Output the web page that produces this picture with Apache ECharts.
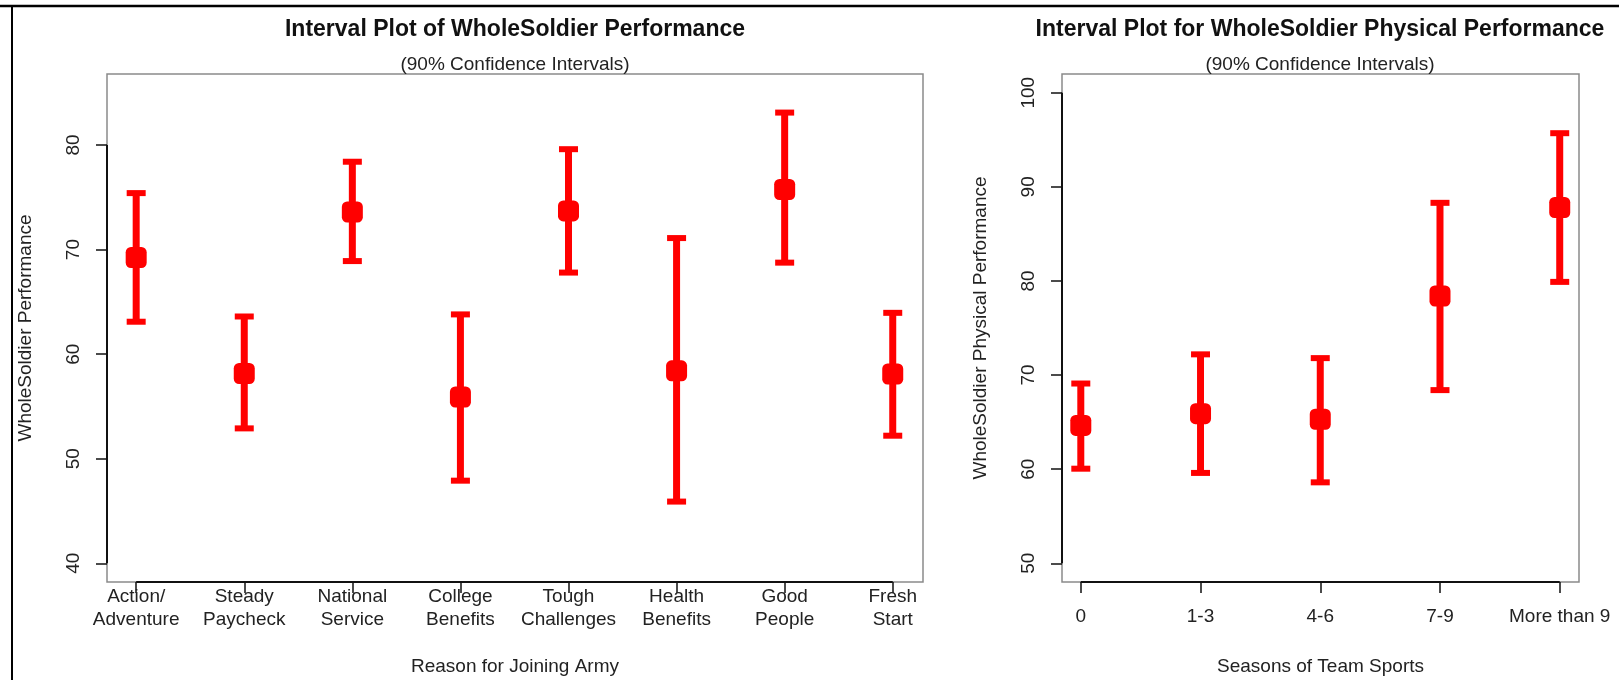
<!DOCTYPE html>
<html>
<head>
<meta charset="utf-8">
<script src="https://cdn.jsdelivr.net/npm/echarts@6/dist/echarts.min.js"></script>
<style>
  html, body { margin: 0; padding: 0; background: #fff; }
  #chart { width: 1619px; height: 680px; }
</style>
</head>
<body>
<div id="chart"></div>
<script>
// left panel: reason for joining army
var reasonCats = ['Action/\nAdventure', 'Steady\nPaycheck', 'National\nService', 'College\nBenefits',
  'Tough\nChallenges', 'Health\nBenefits', 'Good\nPeople', 'Fresh\nStart']
var reasonMean = [69.25, 58.15, 73.6, 55.9, 73.7, 58.4, 75.75, 58.1]
var reasonLow = [63.1, 52.9, 68.9, 47.9, 67.8, 45.9, 68.75, 52.2]
var reasonHigh = [75.4, 63.6, 78.4, 63.8, 79.6, 71.1, 83.1, 63.95]
var reasonTicks = [40, 50, 60, 70, 80]

// right panel: seasons of team sports
var sportCats = ['0', '1-3', '4-6', '7-9', 'More than 9']
var sportMean = [64.65, 65.9, 65.3, 78.4, 87.8]
var sportLow = [60.05, 59.6, 58.6, 68.4, 79.9]
var sportHigh = [69.1, 72.2, 71.8, 88.3, 95.7]
var sportTicks = [50, 60, 70, 80, 90, 100]

var FONT = '"Liberation Sans", Arial, Helvetica, sans-serif'
var RED = '#ff0000'

function idx(arr) {
  return arr.map(function (_, i) { return i })
}

function barData(low, high) {
  return low.map(function (v, i) { return [i, v, high[i]] })
}

function meanData(mean) {
  return mean.map(function (v, i) { return [i, v] })
}

// error bar with caps, drawn through the axis scales
function renderErrorBar(params, api) {
  var x = api.value(0)
  var top = api.coord([x, api.value(2)])
  var bot = api.coord([x, api.value(1)])
  var half = 9.5
  return {
    type: 'group',
    children: [
      { type: 'line', shape: { x1: top[0], y1: top[1], x2: bot[0], y2: bot[1] }, style: { stroke: RED, lineWidth: 7 } },
      { type: 'line', shape: { x1: top[0] - half, y1: top[1], x2: top[0] + half, y2: top[1] }, style: { stroke: RED, lineWidth: 6 } },
      { type: 'line', shape: { x1: bot[0] - half, y1: bot[1], x2: bot[0] + half, y2: bot[1] }, style: { stroke: RED, lineWidth: 6 } },
    ],
  }
}

// R style axis lines: only from first to last tick
function makeAxisRender(nCats, ticks) {
  return function (params, api) {
    var cs = params.coordSys
    var yTop = api.coord([0, ticks[ticks.length - 1]])[1]
    var yBot = api.coord([0, ticks[0]])[1]
    var xL = api.coord([0, ticks[0]])[0]
    var xR = api.coord([nCats - 1, ticks[0]])[0]
    var bottom = cs.y + cs.height
    return {
      type: 'group',
      children: [
        { type: 'line', shape: { x1: cs.x, y1: yTop, x2: cs.x, y2: yBot }, style: { stroke: '#111', lineWidth: 2 } },
        { type: 'line', shape: { x1: xL, y1: bottom, x2: xR, y2: bottom }, style: { stroke: '#111', lineWidth: 2 } },
      ],
    }
  }
}

function xAxisCfg(gridIndex, cats, min, max, name, labelMargin) {
  return {
    type: 'value',
    gridIndex: gridIndex,
    min: min,
    max: max,
    name: name,
    nameLocation: 'middle',
    nameGap: 75,
    nameTextStyle: { color: '#222', fontSize: 19, fontFamily: FONT },
    axisLine: { show: false, onZero: false },
    splitLine: { show: false },
    axisTick: { show: true, length: 11, customValues: idx(cats), lineStyle: { color: '#111', width: 1.5 } },
    axisLabel: {
      customValues: idx(cats),
      margin: labelMargin,
      color: '#222',
      fontSize: 19,
      lineHeight: 23,
      fontFamily: FONT,
      formatter: function (v) { return cats[Math.round(v)] },
    },
  }
}

function yAxisCfg(gridIndex, ticks, min, max, name) {
  return {
    type: 'value',
    gridIndex: gridIndex,
    min: min,
    max: max,
    name: name,
    nameLocation: 'middle',
    nameGap: 72,
    nameTextStyle: { color: '#222', fontSize: 19, fontFamily: FONT },
    axisLine: { show: false, onZero: false },
    splitLine: { show: false },
    axisTick: { show: true, length: 11, customValues: ticks, lineStyle: { color: '#111', width: 1.5 } },
    axisLabel: {
      customValues: ticks,
      rotate: 90,
      margin: 24,
      color: '#222',
      fontSize: 19,
      fontFamily: FONT,
    },
  }
}

var myChart = echarts.init(document.getElementById('chart'))
myChart.setOption({
  backgroundColor: '#fff',
  animation: false,
  title: [
    { text: 'Interval Plot of WholeSoldier Performance', left: 515, top: 18, textAlign: 'center', padding: 0,
      textStyle: { fontSize: 23, fontWeight: 'bold', color: '#111', fontFamily: FONT } },
    { text: '(90% Confidence Intervals)', left: 515, top: 55, textAlign: 'center', padding: 0,
      textStyle: { fontSize: 19, fontWeight: 'normal', color: '#222', fontFamily: FONT } },
    { text: 'Interval Plot for WholeSoldier Physical Performance', left: 1320, top: 18, textAlign: 'center', padding: 0,
      textStyle: { fontSize: 23, fontWeight: 'bold', color: '#111', fontFamily: FONT } },
    { text: '(90% Confidence Intervals)', left: 1320, top: 55, textAlign: 'center', padding: 0,
      textStyle: { fontSize: 19, fontWeight: 'normal', color: '#222', fontFamily: FONT } },
  ],
  graphic: [
    // outer frame of the screenshot (top and left edges)
    { type: 'line', shape: { x1: 0, y1: 6, x2: 1619, y2: 6 }, style: { stroke: '#000', lineWidth: 2.5 } },
    { type: 'line', shape: { x1: 12, y1: 5, x2: 12, y2: 680 }, style: { stroke: '#000', lineWidth: 2 } },
  ],
  grid: [
    { left: 107, top: 74, width: 816, height: 508, outerBoundsMode: 'none', show: true, borderColor: '#8a8a8a', borderWidth: 1.5, backgroundColor: 'transparent' },
    { left: 1062, top: 74, width: 517, height: 508, outerBoundsMode: 'none', show: true, borderColor: '#8a8a8a', borderWidth: 1.5, backgroundColor: 'transparent' },
  ],
  xAxis: [
    xAxisCfg(0, reasonCats, -0.27, 7.28, 'Reason for Joining Army', 3),
    xAxisCfg(1, sportCats, -0.157, 4.161, 'Seasons of Team Sports', 23),
  ],
  yAxis: [
    yAxisCfg(0, reasonTicks, 38.21, 86.79, 'WholeSoldier Performance'),
    yAxisCfg(1, sportTicks, 48.01, 101.99, 'WholeSoldier Physical Performance'),
  ],
  series: [
    { type: 'custom', xAxisIndex: 0, yAxisIndex: 0, renderItem: makeAxisRender(reasonCats.length, reasonTicks), data: [[0, reasonTicks[0]]], silent: true },
    { type: 'custom', xAxisIndex: 1, yAxisIndex: 1, renderItem: makeAxisRender(sportCats.length, sportTicks), data: [[0, sportTicks[0]]], silent: true },
    { type: 'custom', xAxisIndex: 0, yAxisIndex: 0, renderItem: renderErrorBar, encode: { x: 0, y: [1, 2] }, data: barData(reasonLow, reasonHigh) },
    { type: 'custom', xAxisIndex: 1, yAxisIndex: 1, renderItem: renderErrorBar, encode: { x: 0, y: [1, 2] }, data: barData(sportLow, sportHigh) },
    { type: 'scatter', xAxisIndex: 0, yAxisIndex: 0, symbol: 'roundRect', symbolSize: 21, itemStyle: { color: RED, opacity: 1 }, data: meanData(reasonMean), z: 5 },
    { type: 'scatter', xAxisIndex: 1, yAxisIndex: 1, symbol: 'roundRect', symbolSize: 21, itemStyle: { color: RED, opacity: 1 }, data: meanData(sportMean), z: 5 },
  ],
})
</script>
</body>
</html>
